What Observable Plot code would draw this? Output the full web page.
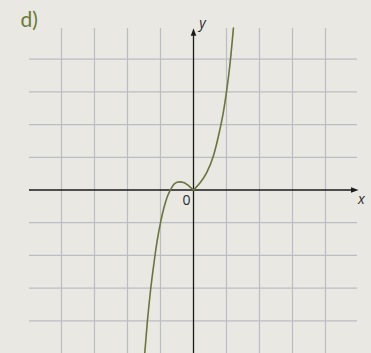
<!DOCTYPE html>
<html>
<head>
<meta charset="utf-8">
<script src="https://cdn.jsdelivr.net/npm/d3@7"></script>
<script src="https://cdn.jsdelivr.net/npm/@observablehq/plot@0.6"></script>
<style>
  html, body { margin: 0; padding: 0; background: #e9e8e2; }
  #chart svg { display: block; background: #e9e8e2; }
</style>
</head>
<body>
<div id="chart"></div>
<script>
// Curve: left branch (through local max) and right branch, meeting at the origin
const leftX  = [-1.52, -1.47, -1.4, -1.3, -1.2, -1.1, -1.0, -0.9, -0.8, -0.7, -0.6, -0.5, -0.42, -0.3, -0.2, -0.1, 0];
const leftY  = [-5.5, -4.9, -4.05, -3.05, -2.25, -1.55, -1.0, -0.56, -0.22, 0.0, 0.17, 0.24, 0.25, 0.23, 0.17, 0.09, 0];
const rightX = [0, 0.2, 0.4, 0.6, 0.8, 0.9, 1.0, 1.1, 1.21];
const rightY = [0, 0.22, 0.53, 1.03, 1.85, 2.35, 3.0, 3.8, 4.95];

// Grid lines (unit steps)
const gridX = [-4, -3, -2, -1, 1, 2, 3, 4];
const gridY = [-4, -3, -2, -1, 1, 2, 3, 4];

// Labels
const panelLabel = "d)";
const originLabel = "0";
const xLabel = "x";
const yLabel = "y";

const left = leftX.map((x, i) => ({x, y: leftY[i], branch: "left"}));
const right = rightX.map((x, i) => ({x, y: rightY[i], branch: "right"}));
const curve = left.concat(right);

const arrowRight = {draw(ctx) { ctx.moveTo(0, 0); ctx.lineTo(-7.5, -2.8); ctx.lineTo(-7.5, 2.8); ctx.closePath(); }};
const arrowUp = {draw(ctx) { ctx.moveTo(0, 0); ctx.lineTo(-2.8, 7.5); ctx.lineTo(2.8, 7.5); ctx.closePath(); }};

const gridColor = "#bcbcc4";
const axisColor = "#1b1b1b";

const chart = Plot.plot({
  width: 371,
  height: 353,
  marginLeft: 28,
  marginRight: 13,
  marginTop: 26,
  marginBottom: 0,
  x: {domain: [-5, 5], axis: null},
  y: {domain: [-5, 5], axis: null},
  style: {background: "#e9e8e2", overflow: "visible"},
  marks: [
    Plot.ruleX(gridX, {y1: -5.1, y2: 4.94, stroke: gridColor, strokeWidth: 1.2}),
    Plot.ruleY(gridY, {x1: -4.97, x2: 4.97, stroke: gridColor, strokeWidth: 1.2}),
    Plot.ruleY([0], {x1: -4.97, x2: 4.85, stroke: axisColor, strokeWidth: 1.3}),
    Plot.ruleX([0], {y1: -5.1, y2: 4.8, stroke: axisColor, strokeWidth: 1.3}),
    Plot.dot([0], {x: () => 5.0, y: () => 0, symbol: arrowRight, fill: axisColor, stroke: "none", r: 3}),
    Plot.dot([0], {x: () => 0, y: () => 4.95, symbol: arrowUp, fill: axisColor, stroke: "none", r: 3}),
    Plot.line(curve, {x: "x", y: "y", z: "branch", curve: "monotone-x", stroke: "#6b7540", strokeWidth: 1.6, clip: true}),
    Plot.text([panelLabel], {x: () => -5.24, y: () => 5.2, text: d => d, textAnchor: "start", fontSize: 21, fill: "#6b7a3a", fontFamily: "Lato, 'Open Sans', sans-serif"}),
    Plot.text([originLabel], {x: () => -0.21, y: () => -0.31, text: d => d, fontSize: 14, fill: "#2a2a2a", fontFamily: "'Open Sans', 'DejaVu Sans', sans-serif"}),
    Plot.text([xLabel], {x: () => 5.09, y: () => -0.28, text: d => d, fontSize: 14, fontStyle: "italic", fill: "#2a2a2a", fontFamily: "'Open Sans', 'DejaVu Sans', sans-serif"}),
    Plot.text([yLabel], {x: () => 0.27, y: () => 5.1, text: d => d, fontSize: 14, fontStyle: "italic", fill: "#2a2a2a", fontFamily: "'Open Sans', 'DejaVu Sans', sans-serif"})
  ]
});
document.getElementById("chart").appendChild(chart);
</script>
</body>
</html>
